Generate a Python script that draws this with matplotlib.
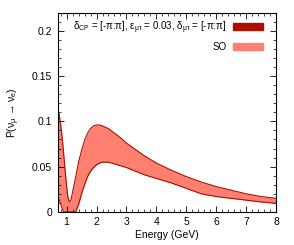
import matplotlib
matplotlib.use("Agg")
import matplotlib.pyplot as plt
from matplotlib.patches import Patch
from matplotlib.ticker import MultipleLocator

plt.rcParams['font.family'] = ['Liberation Sans', 'DejaVu Sans']
plt.rcParams['mathtext.fontset'] = 'custom'
plt.rcParams['mathtext.rm'] = 'Liberation Sans'
plt.rcParams['mathtext.it'] = 'Liberation Sans'

# energies (GeV) and band edges
energy = [0.70, 0.75, 0.80, 0.85, 0.90, 0.95, 1.00, 1.05, 1.10, 1.15, 1.20, 1.30,
          1.40, 1.50, 1.60, 1.70, 1.80, 1.90, 2.00, 2.10, 2.20, 2.40, 2.60, 2.80,
          3.00, 3.30, 3.60, 4.00, 4.50, 5.00, 5.50, 6.00, 6.50, 7.00, 7.50, 8.00]
p_upper = [0.116, 0.108, 0.097, 0.083, 0.065, 0.046, 0.028, 0.015, 0.011, 0.014, 0.022, 0.038,
           0.055, 0.068, 0.079, 0.087, 0.092, 0.095, 0.096, 0.096, 0.095, 0.092, 0.087, 0.082,
           0.076, 0.069, 0.062, 0.054, 0.046, 0.039, 0.033, 0.028, 0.024, 0.020, 0.017, 0.015]
p_lower = [0.018, 0.014, 0.009, 0.004, 0.000, 0.000, 0.000, 0.000, 0.000, 0.000, 0.000, 0.000,
           0.008, 0.020, 0.030, 0.039, 0.045, 0.049, 0.052, 0.054, 0.055, 0.055, 0.053, 0.051,
           0.049, 0.045, 0.041, 0.037, 0.032, 0.026, 0.020, 0.017, 0.015, 0.013, 0.011, 0.0095]

dark = '#a81000'
light = '#ff7f70'

fig = plt.figure(figsize=(2.94, 2.45), dpi=100)
ax = fig.add_axes([0.196, 0.135, 0.743, 0.813])

ax.fill_between(energy, p_lower, p_upper, color=light, lw=0)
ax.plot(energy, p_upper, color=dark, lw=0.8)
ax.plot(energy, p_lower, color=dark, lw=0.8)

ax.set_xlim(0.7, 8)
ax.set_ylim(0, 0.22)
ax.xaxis.set_major_locator(MultipleLocator(1))
ax.xaxis.set_minor_locator(MultipleLocator(0.2))
ax.yaxis.set_major_locator(MultipleLocator(0.05))
ax.yaxis.set_minor_locator(MultipleLocator(0.01))
ax.set_yticks([0, 0.05, 0.1, 0.15, 0.2])
ax.set_yticklabels(['0', '0.05', '0.1', '0.15', '0.2'])
ax.tick_params(which='both', direction='in', top=True, right=True, labelsize=7.5, pad=4)
ax.tick_params(which='major', length=4, width=0.6)
ax.tick_params(which='minor', length=2, width=0.5)
for s in ax.spines.values():
    s.set_linewidth(0.8)

ax.set_xlabel('Energy (GeV)', fontsize=7.5, labelpad=2)
ax.set_ylabel('P(ν$_{\\mathrm{μ}}$ → ν$_{\\mathrm{e}}$)', fontsize=7.5, labelpad=7)

handles = [Patch(color=dark), Patch(color=light)]
labels = ['δ$_{\\mathrm{CP}}$ = [-π:π], ε$_{\\mathrm{μτ}}$ = 0.03, δ$_{\\mathrm{μτ}}$ = [-π:π]',
          'SO']
ax.legend(handles, labels, loc='upper right', bbox_to_anchor=(0.96, 0.985),
          frameon=False, markerfirst=False,
          fontsize=7, handlelength=3.1, handleheight=0.75, labelspacing=0.6,
          borderaxespad=0, handletextpad=0.7)

fig.savefig('out.png', dpi=100)
